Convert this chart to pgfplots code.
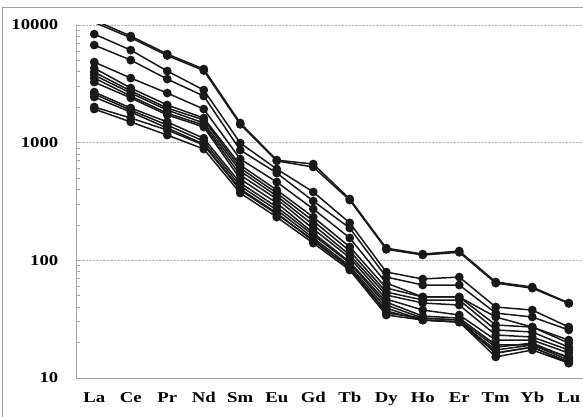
\documentclass[border=0pt]{standalone}
\usepackage{fontspec}
\setmainfont{Liberation Serif}
\usepackage{pgfplots}
\usepackage{pgfplotstable}
\pgfplotsset{compat=1.18}

% REE abundances, one row per element, one column per sample
\pgfplotstableread{
x  S1    S1b   S2    S3    S4    S5    S6    S7    S8    S9    S10   S11   S12   S13   S14
1  11000 10500 8370  6750  4840  4300  3980  3750  3540  3270  2690  2590  2440  2010  1930
2  8050  7800  6120  5030  3540  2910  2750  2640  2490  2400  1970  1890  1820  1620  1500
3  5660  5500  4060  3470  2640  2090  1970  1890  1780  1720  1500  1410  1330  1280  1160
4  4220  4100  2800  2490  1930  1620  1560  1470  1410  1360  1090  1030  973   955   883
5  1470  1430  993   865   726   645   608   574   531   491   454   428   404   396   373
6  711   700   597   552   463   396   373   352   332   307   284   268   252   247   233
7  658   621   381   319   273   233   216   200   185   171   164   155   146   149   140
8  332   325   208   188   155   130   120   111   105   96.8  94.8  89.5  86.1  86.1  82.7
9  127   124   79.5  72.1  64.1  58.2  53.8  50.7  46.9  44.2  41.7  39.3  37.1  35.6  34.3
10 113   111   69.4  61.7  48.8  48.8  46.0  43.4  37.8  33.6  32.3  31.1  31.1  32.3  31.1
11 120   117   72.1  61.7  48.8  48.8  46.0  41.7  34.3  32.3  31.1  29.9  29.9  31.1  29.9
12 65.4  64    40.1  35.6  33.0  28.2  25.6  23.2  21.0  19.1  18.3  17.3  16.3  16.3  15.1
13 59.3  58    37.8  33.0  27.1  27.1  24.6  22.3  21.0  19.1  19.8  19.1  18.3  18.3  17.3
14 43.4  43    27.1  25.6  21.0  19.8  18.3  17.3  16.3  15.1  14.8  14.2  13.7  13.4  13.4
}\ree

\begin{document}
\begin{tikzpicture}[x=1pt,y=1pt]
\useasboundingbox (0,0) rectangle (583,416);
% chart area frame
\draw[gray!75, line width=1pt] (2,-5) -- (2,408) -- (590,408);
\begin{axis}[
    at={(76pt,38pt)}, anchor=south west,
    scale only axis,
    width=507pt, height=353pt,
    ymode=log,
    xmin=0.5, xmax=14.39,
    ymin=10, ymax=10000,
    axis x line*=bottom,
    axis y line*=left,
    axis line style={gray!70, line width=0.9pt},
    xtick={1,...,14},
    xticklabels={La,Ce,Pr,Nd,Sm,Eu,Gd,Tb,Dy,Ho,Er,Tm,Yb,Lu},
    x tick style={draw=none},
    ytick={10,100,1000,10000},
    yticklabels={10,100,1000,10000},
    y tick style={gray!70, line width=0.8pt},
    tick align=inside,
    major tick length=4pt,
    minor tick length=4pt,
    ymajorgrids=true,
    grid style={densely dotted, gray!55, line width=0.7pt},
    /pgf/number format/assume math mode=true,
    tick label style={font=\fontsize{15}{18}\selectfont\bfseries, inner sep=0pt, xscale=1.25},
    x tick label style={anchor=north, yshift=-14pt},
    y tick label style={anchor=east, xshift=-14pt},
    ree/.style={color=black!90, mark=*, solid, line width=1.5pt,
        mark size=3.6pt, mark options={solid, fill=black!90}},
]
\addplot[ree] table[x=x, y=S1]  {\ree};
\addplot[ree] table[x=x, y=S1b] {\ree};
\addplot[ree] table[x=x, y=S2]  {\ree};
\addplot[ree] table[x=x, y=S3]  {\ree};
\addplot[ree] table[x=x, y=S4]  {\ree};
\addplot[ree] table[x=x, y=S5]  {\ree};
\addplot[ree] table[x=x, y=S6]  {\ree};
\addplot[ree] table[x=x, y=S7]  {\ree};
\addplot[ree] table[x=x, y=S8]  {\ree};
\addplot[ree] table[x=x, y=S9]  {\ree};
\addplot[ree] table[x=x, y=S10] {\ree};
\addplot[ree] table[x=x, y=S11] {\ree};
\addplot[ree] table[x=x, y=S12] {\ree};
\addplot[ree] table[x=x, y=S13] {\ree};
\addplot[ree] table[x=x, y=S14] {\ree};
\end{axis}
\end{tikzpicture}
\end{document}
